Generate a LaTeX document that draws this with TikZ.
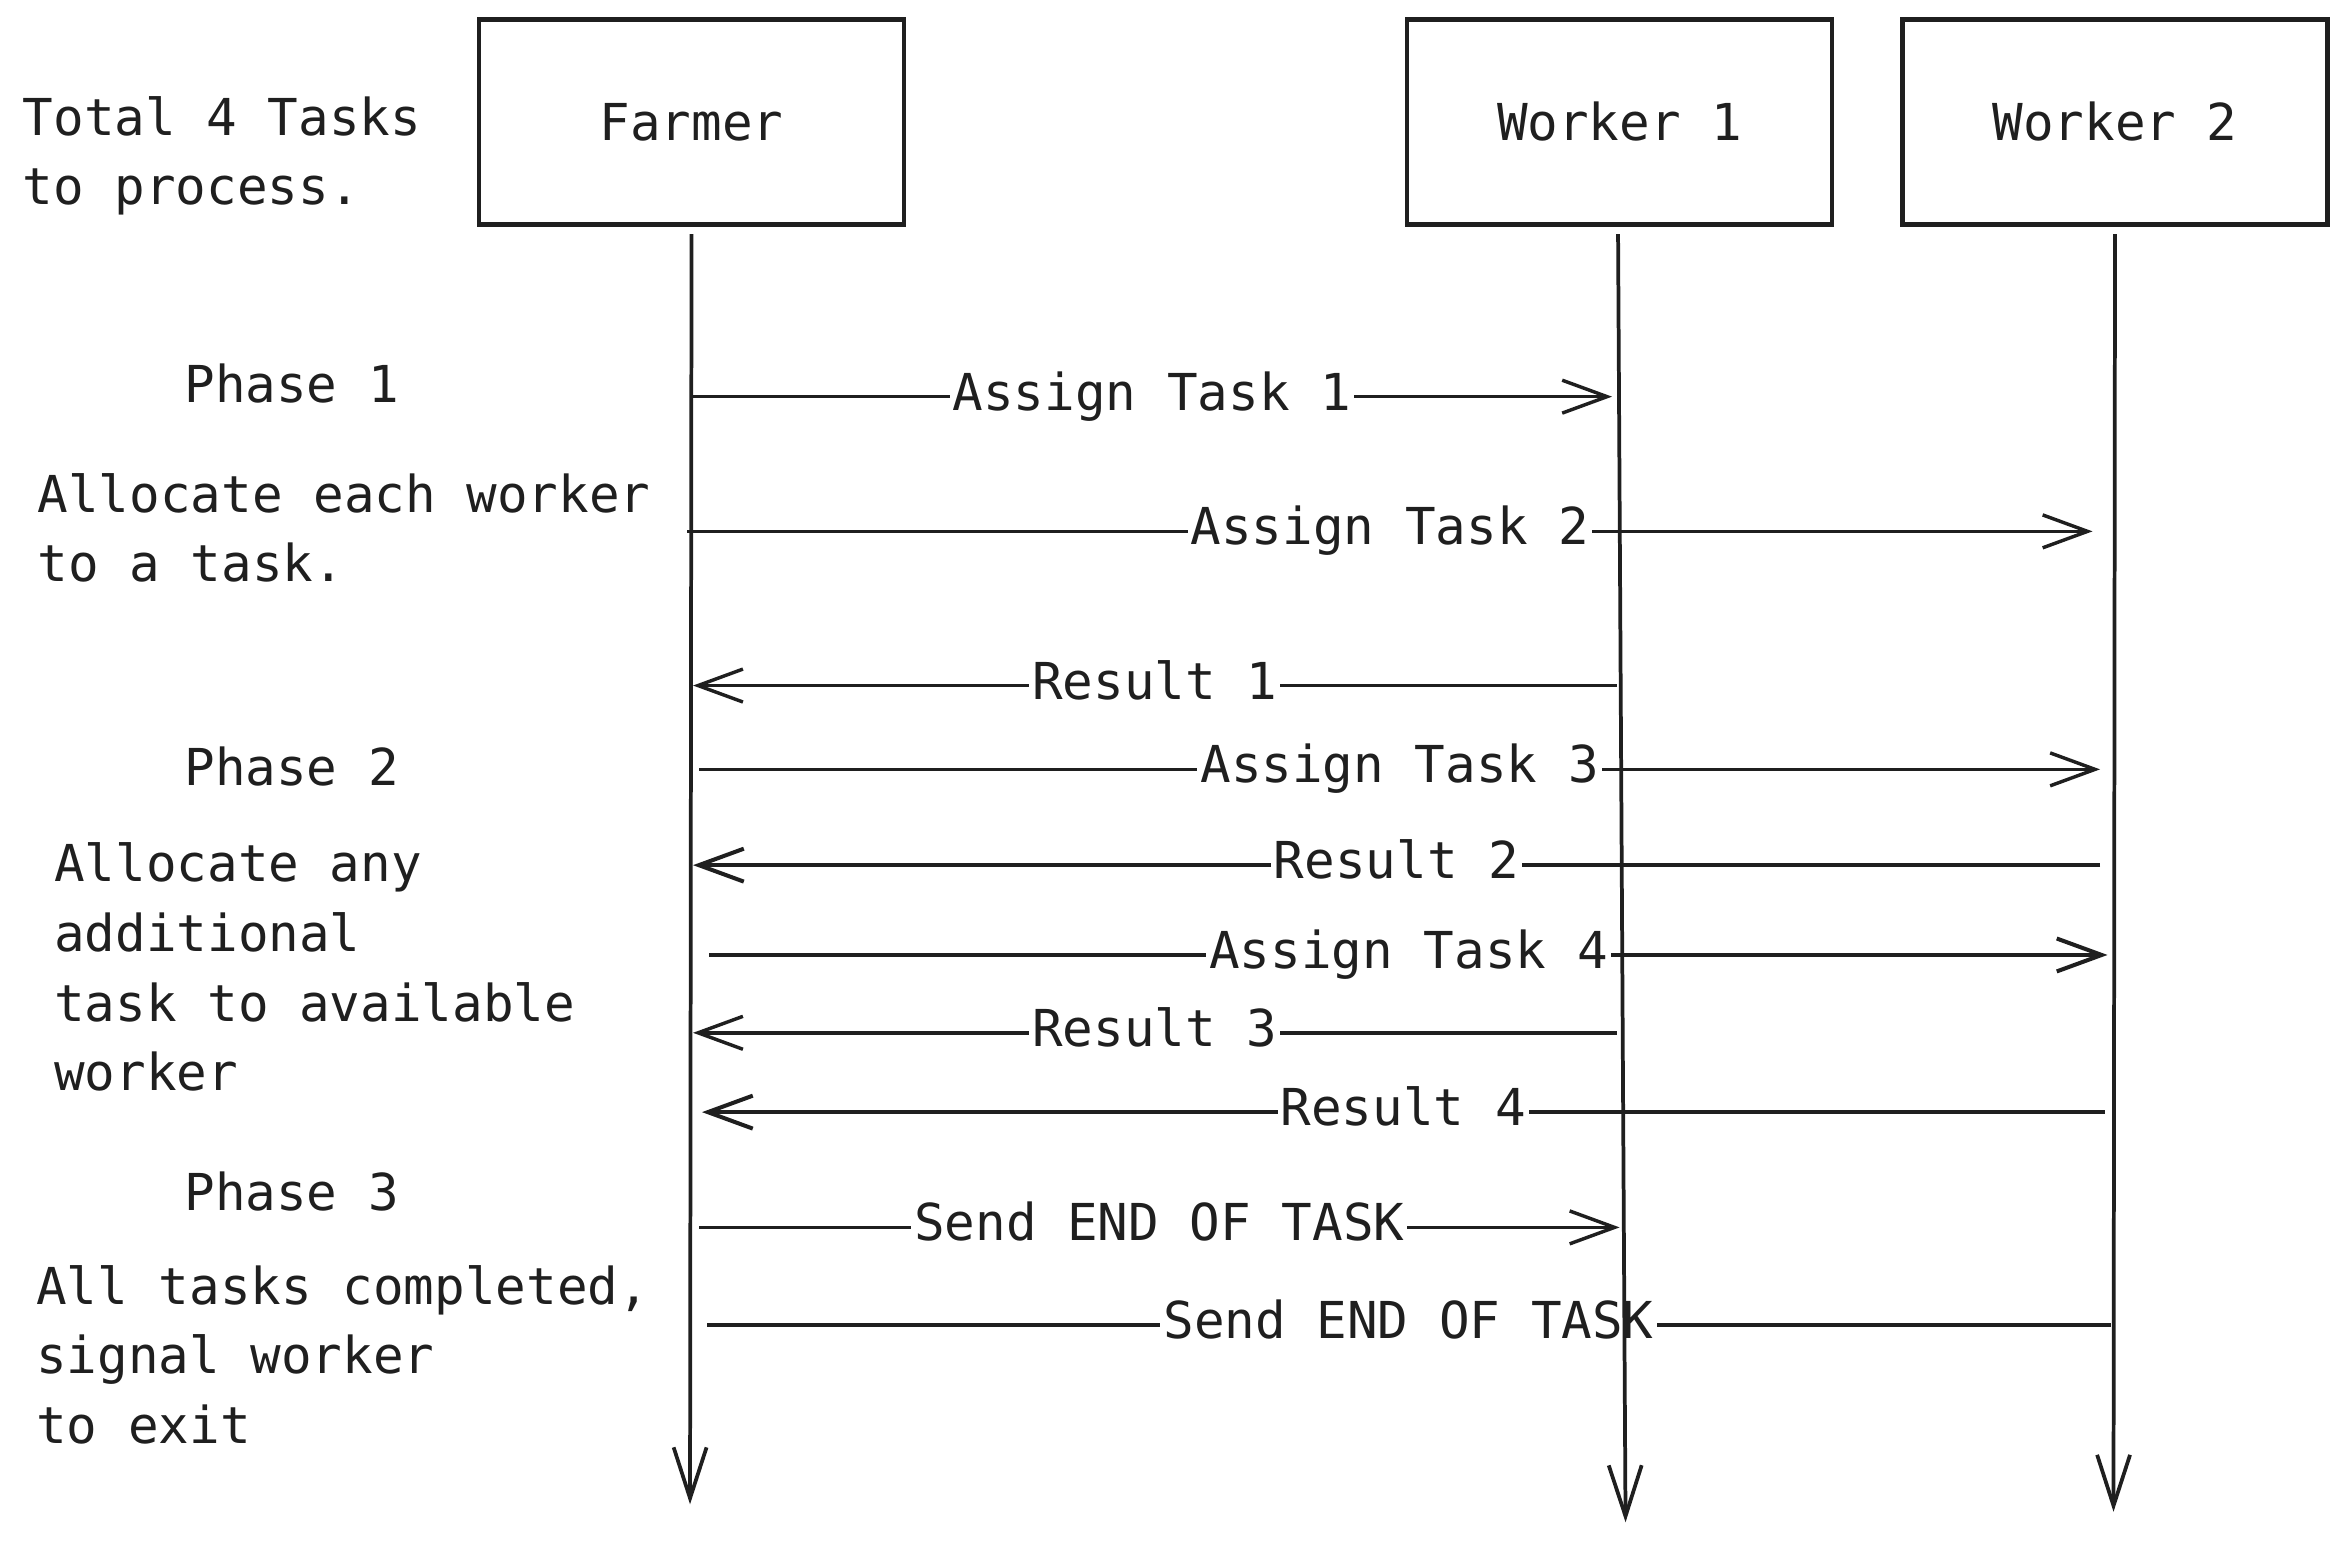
\documentclass[tikz,border=0pt]{standalone}
\usepackage{fontspec}
\setmainfont{DejaVu Sans Mono}
\usetikzlibrary{arrows.meta}
\begin{document}
\begin{tikzpicture}[x=1pt,y=-1pt,
  every node/.style={font=\fontsize{34}{46.5}\selectfont, text=black!88},
  actor/.style={draw=black!88, line width=2.8pt, minimum width=284pt, minimum height=137pt, inner sep=0pt},
  life/.style={draw=black!88, line width=2.5pt, -{Straight Barb[length=34pt,width=22pt]}},
  msg/.style={draw=black!88, line width=2.3pt, -{Straight Barb[length=30pt,width=22pt]}},
  nohead/.style={draw=black!88, line width=2.6pt},
  lbl/.style={fill=white, inner xsep=2pt, inner ysep=0pt, text height=26pt, text depth=8pt},
  note/.style={align=left, anchor=north west, inner sep=0pt}]
\useasboundingbox (0,0) rectangle (1568,1030);

% actors
\node[actor] (farmer) at (462,81.5) {Farmer};
\node[actor] (w1) at (1082,81.5) {Worker 1};
\node[actor] (w2) at (1413,81.5) {Worker 2};

% side notes
\node[note] (t0) at (15,64) {Total 4 Tasks\\to process.};
\node[note] (p1) at (123,243) {Phase 1};
\node[note] (n1) at (25,316) {Allocate each worker\\to a task.};
\node[note] (p2) at (123,499) {Phase 2};
\node[note] (n2) at (36,563) {Allocate any\\additional\\task to available\\worker};
\node[note] (p3) at (123,783) {Phase 3};
\node[note] (n3) at (24,845) {All tasks completed,\\signal worker\\to exit};

% message end points
\coordinate (a1s) at (462,265);  \coordinate (a1e) at (1077,265);
\coordinate (a2s) at (459,355);  \coordinate (a2e) at (1398,355);
\coordinate (r1s) at (1080,458); \coordinate (r1e) at (463,458);
\coordinate (a3s) at (467,514);  \coordinate (a3e) at (1403,514);
\coordinate (r2s) at (1403,578); \coordinate (r2e) at (463,578);
\coordinate (a4s) at (474,638);  \coordinate (a4e) at (1408,638);
\coordinate (r3s) at (1080,690); \coordinate (r3e) at (463,690);
\coordinate (r4s) at (1406,743); \coordinate (r4e) at (469,743);
\coordinate (e1s) at (467,820);  \coordinate (e1e) at (1082,820);
\coordinate (e2s) at (1410,885); \coordinate (e2e) at (472,885);

% messages
\draw[msg] (a1s) -- node[lbl] (la1) {Assign Task 1} (a1e);
\draw[msg] (a2s) -- node[lbl] (la2) {Assign Task 2} (a2e);
\draw[msg] (r1s) -- node[lbl] (lr1) {Result 1} (r1e);
\draw[msg] (a3s) -- node[lbl] (la3) {Assign Task 3} (a3e);
\draw[msg, line width=2.7pt] (r2s) -- node[lbl] (lr2) {Result 2} (r2e);
\draw[msg, line width=2.7pt] (a4s) -- node[lbl] (la4) {Assign Task 4} (a4e);
\draw[msg] (r3s) -- node[lbl] (lr3) {Result 3} (r3e);
\draw[msg, line width=2.7pt] (r4s) -- node[lbl] (lr4) {Result 4} (r4e);
\draw[msg] (e1s) -- node[lbl] (le1) {Send END OF TASK} (e1e);
\draw[nohead] (e2s) -- node[lbl] (le2) {Send END OF TASK} (e2e);

% lifelines (drawn on top)
\coordinate (fEnd) at (461,1005);
\coordinate (w1End) at (1086,1017);
\coordinate (w2End) at (1412,1010);
\draw[life] ([yshift=-5pt]farmer.south) -- (fEnd);
\draw[life] ([xshift=-1pt,yshift=-5pt]w1.south) -- (w1End);
\draw[life] ([yshift=-5pt]w2.south) -- (w2End);
\end{tikzpicture}
\end{document}
